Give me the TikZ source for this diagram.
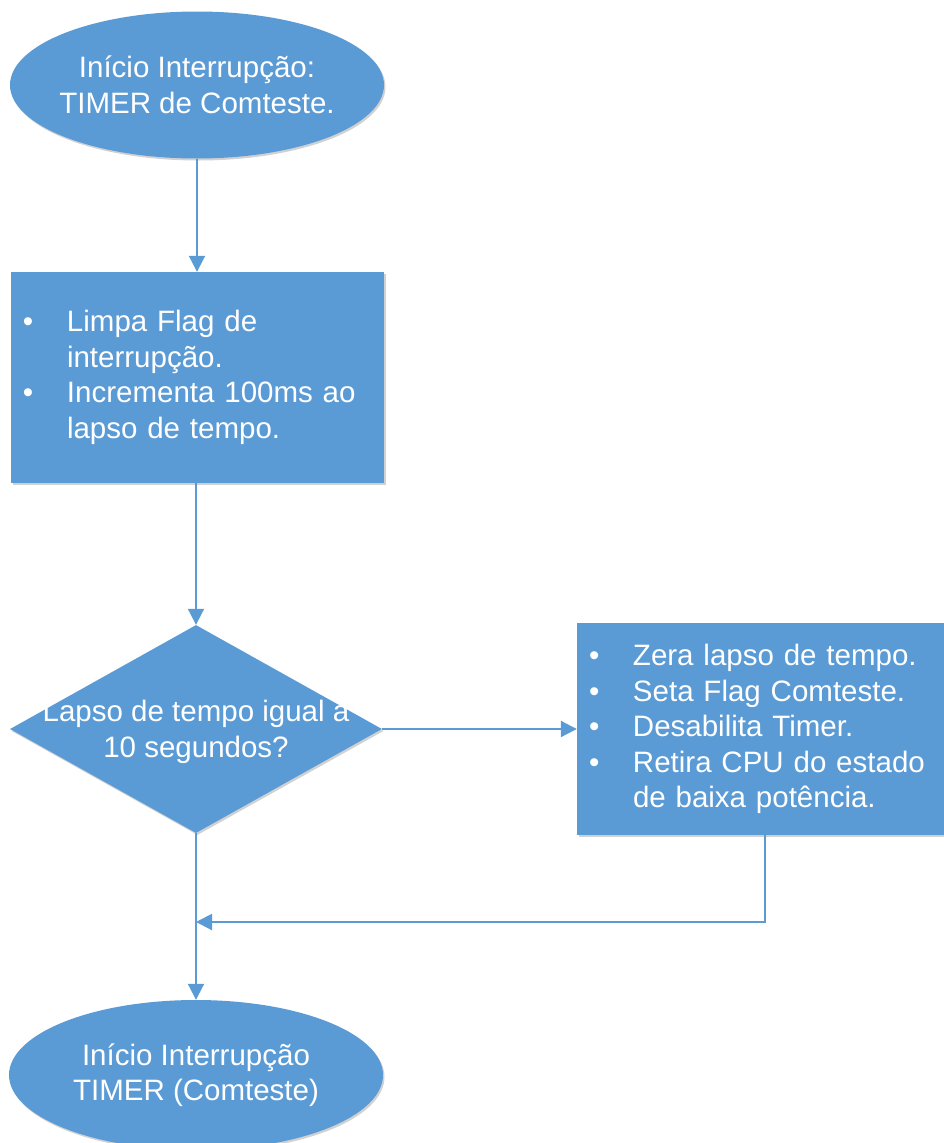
\documentclass[tikz,border=0pt]{standalone}
\usepackage{fontspec}
\setmainfont{Liberation Sans}
\usetikzlibrary{shapes.geometric,arrows.meta,shadows}
\definecolor{flowblue}{HTML}{5B9BD5}
\newcommand{\blt}{\makebox[56pt][l]{\hspace*{12pt}\textbullet}}
\newcommand{\ind}{\hspace*{56pt}}
\begin{document}
\begin{tikzpicture}[x=1pt,y=-1pt,
  bodyfont/.style={font=\fontsize{29.5}{35.5}\selectfont},
  shapebase/.style={fill=flowblue, draw=none, text=white, inner sep=0pt, bodyfont,
    drop shadow={shadow xshift=1.5pt, shadow yshift=-2pt, fill=black, opacity=0.18}},
  caption/.style={text=white, align=center, bodyfont},
  terminal/.style={shapebase, ellipse, minimum width=374pt, minimum height=147pt},
  procbox/.style={shapebase, rectangle, align=left},
  decision/.style={shapebase, diamond, minimum width=372pt, minimum height=208pt},
  flow/.style={draw=flowblue, line width=2pt, -{Triangle[width=16pt,length=16pt]}}
]
\useasboundingbox (0,0) rectangle (944,1143);

\node[terminal, label={[caption]center:Início Interrupção:\\TIMER de Comteste.}] (start) at (197,85) {};

\node[procbox, minimum width=373pt, minimum height=211pt, text width=373pt] (clear) at (197.5,377.5)
  {\blt Limpa Flag de\\\ind interrupção.\\\blt Incrementa 100ms ao\\\ind lapso de tempo.};

\node[decision, label={[caption, yshift=-3pt]center:Lapso de tempo igual a\\10 segundos?}] (check) at (196,729) {};

\node[procbox, minimum width=376pt, minimum height=212pt, text width=376pt] (reset) at (765,729)
  {\blt Zera lapso de tempo.\\\blt Seta Flag Comteste.\\\blt Desabilita Timer.\\\blt Retira CPU do estado\\\ind de baixa potência.};

\node[terminal, minimum height=150pt, label={[caption]center:Início Interrupção\\TIMER (Comteste)}] (finish) at (196,1075) {};

\coordinate (join) at (196,922);

\draw[flow] (start.south) -- (clear.north -| start.south);
\draw[flow] (clear.south -| check.north) -- (check.north);
\draw[flow] (check.east) -- (reset.west);
\draw[flow] (check.south) -- (finish.north);
\draw[flow] (reset.south) |- (join);
\end{tikzpicture}
\end{document}
